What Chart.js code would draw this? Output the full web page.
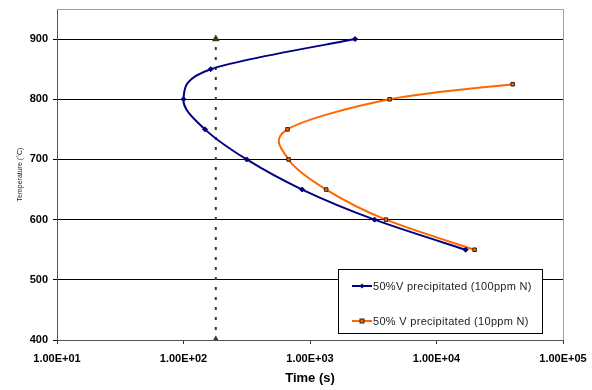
<!DOCTYPE html>
<html>
<head>
<meta charset="utf-8">
<script src="https://cdn.jsdelivr.net/npm/chart.js@4"></script>
<style>
  body { margin: 0; background: #fff; }
  #wrap { width: 592px; height: 390px; }
</style>
</head>
<body>
<div id="wrap"><canvas id="myChart" width="592" height="390"></canvas></div>
<script>
// time (s) / temperature (°C)
const highNTime = [2270, 164, 100, 148, 316, 867, 3240, 17000];
const highNTemp = [900, 850, 800, 750, 700, 650, 600, 550];
const lowNTime = [40000, 4260, 664, 677, 1343, 3985, 20000];
const lowNTemp = [825, 800, 750, 700, 650, 600, 550];
const markTime = [180, 180];
const markTemp = [400, 900];
const xTicks = [10, 100, 1000, 10000, 100000];
const yTicks = [400, 500, 600, 700, 800, 900];
const labels = ['50%V precipitated (100ppm N)', '50% V precipitated (10ppm N)'];

const FONT = '"Liberation Sans", Arial, sans-serif';

function pts(xs, ys) {
    return xs.map((x, i) => ({ x: x, y: ys[i] }));
}

function sci(v) {
    const e = Math.round(Math.log10(v));
    return '1.00E+' + (e < 10 ? '0' + e : e);
}

// excel style smoothing: uniform catmull-rom control points
const smooth = {
    id: 'smooth',
    beforeDatasetsDraw(chart) {
        chart.data.datasets.forEach((ds, di) => {
            if (!ds.excelSmooth) return;
            const meta = chart.getDatasetMeta(di);
            const p = meta.data;
            const n = p.length;
            for (let i = 0; i < n; i++) {
                const prev = p[Math.max(i - 1, 0)];
                const next = p[Math.min(i + 1, n - 1)];
                const dx = (next.x - prev.x) / 6;
                const dy = (next.y - prev.y) / 6;
                p[i].cp1x = p[i].x - dx;
                p[i].cp1y = p[i].y - dy;
                p[i].cp2x = p[i].x + dx;
                p[i].cp2y = p[i].y + dy;
            }
            meta.dataset._pointsUpdated = true;
            meta.dataset._path = undefined;
        });
    }
};

// plot border + legend box inside the plot area
const frame = {
    id: 'frame',
    afterDatasetsDraw(chart) {
        const a = chart.chartArea;
        const ctx = chart.ctx;
        ctx.save();
        ctx.strokeStyle = '#a0a0a0';
        ctx.lineWidth = 1;
        ctx.beginPath();
        ctx.moveTo(a.left, a.top + 0.5);
        ctx.lineTo(a.right + 0.5, a.top + 0.5);
        ctx.lineTo(a.right + 0.5, a.bottom);
        ctx.stroke();

        const bx = 338, by = 269, bw = 204, bh = 64;
        ctx.fillStyle = '#fff';
        ctx.fillRect(bx, by, bw, bh);
        ctx.strokeStyle = '#000';
        ctx.strokeRect(bx + 0.5, by + 0.5, bw, bh);
        ctx.font = '11px ' + FONT;
        ctx.letterSpacing = '0.3px';
        ctx.textBaseline = 'middle';
        [0, 1].forEach(i => {
            const ds = chart.data.datasets[i];
            const yy = by + 17 + i * 35;
            ctx.strokeStyle = ds.borderColor;
            ctx.lineWidth = 2;
            ctx.beginPath();
            ctx.moveTo(bx + 14, yy);
            ctx.lineTo(bx + 34, yy);
            ctx.stroke();
            ctx.fillStyle = ds.pointBackgroundColor;
            ctx.strokeStyle = ds.pointBorderColor;
            ctx.lineWidth = 1;
            if (i === 0) {
                ctx.beginPath();
                ctx.moveTo(bx + 24, yy - 2.5);
                ctx.lineTo(bx + 26.5, yy);
                ctx.lineTo(bx + 24, yy + 2.5);
                ctx.lineTo(bx + 21.5, yy);
                ctx.closePath();
                ctx.fill();
            } else {
                ctx.fillRect(bx + 22, yy - 2, 4, 4);
                ctx.strokeRect(bx + 22, yy - 2, 4, 4);
            }
            ctx.fillStyle = '#222';
            ctx.fillText(labels[i], bx + 35, yy + 1);
        });
        ctx.restore();
    }
};

const ctx = document.getElementById('myChart').getContext('2d');
new Chart(ctx, {
    type: 'scatter',
    data: {
        datasets: [
            {
                label: labels[0],
                data: pts(highNTime, highNTemp),
                showLine: true,
                tension: 0.4,
                excelSmooth: true,
                borderColor: '#000080',
                borderWidth: 2,
                pointStyle: 'rectRot',
                pointRadius: 2.5,
                pointBackgroundColor: '#000080',
                pointBorderColor: '#000080',
                pointBorderWidth: 1
            },
            {
                label: labels[1],
                data: pts(lowNTime, lowNTemp),
                showLine: true,
                tension: 0.4,
                excelSmooth: true,
                borderColor: '#ff6600',
                borderWidth: 2,
                pointStyle: 'rect',
                pointRadius: 2.5,
                pointBackgroundColor: '#ff6600',
                pointBorderColor: '#222',
                pointBorderWidth: 1
            },
            {
                label: 'marker',
                data: pts(markTime, markTemp),
                showLine: true,
                borderColor: '#3b3b1a',
                borderWidth: 2,
                borderDash: [3, 7],
                pointStyle: 'triangle',
                pointRadius: 2.5,
                pointBackgroundColor: '#3b3b1a',
                pointBorderColor: '#3b3b1a'
            }
        ]
    },
    options: {
        responsive: false,
        animation: false,
        layout: { padding: { left: 12, top: 9, right: 29, bottom: 0 } },
        plugins: {
            legend: { display: false },
            tooltip: { enabled: false }
        },
        scales: {
            x: {
                type: 'logarithmic',
                min: 10,
                max: 100000,
                afterBuildTicks: s => { s.ticks = xTicks.map(v => ({ value: v })); },
                afterFit: s => { s.height = 50; s.paddingLeft = 0; s.paddingRight = 0; },
                ticks: {
                    callback: v => sci(v),
                    color: '#000',
                    font: { family: FONT, size: 11, weight: 'bold' },
                    maxRotation: 0,
                    padding: 8
                },
                grid: { drawOnChartArea: false, tickLength: 4, color: '#333' },
                border: { color: '#555' },
                title: {
                    display: true,
                    text: 'Time (s)',
                    color: '#000',
                    font: { family: FONT, size: 13, weight: 'bold' },
                    padding: { top: 7 }
                }
            },
            y: {
                min: 400,
                max: 950,
                afterBuildTicks: s => { s.ticks = yTicks.map(v => ({ value: v })); },
                afterFit: s => { s.width = 45; s.paddingTop = 0; s.paddingBottom = 0; },
                ticks: {
                    color: '#000',
                    font: { family: FONT, size: 11, weight: 'bold' },
                    padding: 5
                },
                grid: { color: '#000', lineWidth: 1, tickLength: 4 },
                border: { color: '#555' },
                title: {
                    display: true,
                    text: 'Temperature (°C)',
                    color: '#222',
                    font: { family: FONT, size: 7 },
                    padding: { top: 4, bottom: 4 }
                }
            }
        }
    },
    plugins: [smooth, frame]
});
</script>
</body>
</html>
